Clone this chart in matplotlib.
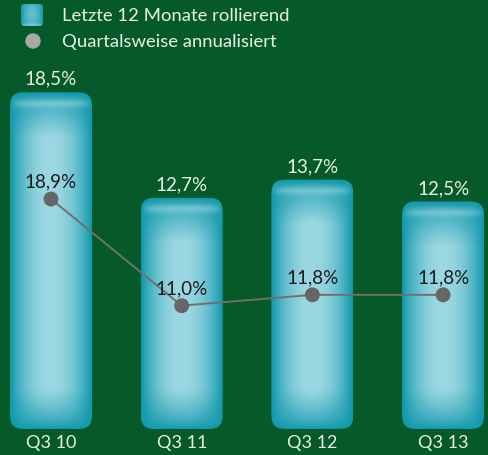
import numpy as np
import matplotlib
matplotlib.use("Agg")
import matplotlib.pyplot as plt
from matplotlib.patches import FancyBboxPatch, Circle

categories = ["Q3 10", "Q3 11", "Q3 12", "Q3 13"]
rolling_12m = [18.5, 12.7, 13.7, 12.5]
quarterly_annualized = [18.9, 11.0, 11.8, 11.8]
bar_labels = ["18,5%", "12,7%", "13,7%", "12,5%"]
dot_labels = ["18,9%", "11,0%", "11,8%", "11,8%"]
legend_labels = ["Letzte 12 Monate rollierend", "Quartalsweise annualisiert"]

BG = "#065a2a"
TXT = "#e9f1e4"
FONT = "Lato"
W, H = 488, 456
fig = plt.figure(figsize=(W / 100, H / 100), dpi=100)
fig.patch.set_facecolor(BG)

PX_PER_UNIT = 18.2
base_px = 430
ax = fig.add_axes([0, (H - base_px) / H, 1, base_px / H])
ax.set_facecolor("none")
spacing = 130.7
ax.set_xlim(-51 / spacing, (W - 51) / spacing)
ax.set_ylim(0, base_px / PX_PER_UNIT)
ax.axis("off")

dark = np.array([0x10, 0x98, 0xac]) / 255
light = np.array([0x9c, 0xd8, 0xe2]) / 255


def bar_image(h_px, w_px=82):
    nx, ny = 120, max(int(h_px), 10)
    xs = np.linspace(-1, 1, nx)
    ys = np.linspace(0, h_px, ny)  # from bottom
    XX, YY = np.meshgrid(xs, ys)
    t = 1 - np.abs(XX) ** 2.0
    bottom = np.clip(YY / 40.0, 0, 1) ** 0.7
    top = np.clip((h_px - YY) / 45.0, 0, 1) ** 0.8
    t = np.clip(t * bottom * top, 0, 1)
    im = dark[None, None, :] * (1 - t[..., None]) + light[None, None, :] * t[..., None]
    # soft glossy highlight band near the top
    hb = np.exp(-((h_px - YY - 11) / 4.5) ** 2) * (1 - np.abs(XX) ** 6) * 0.28
    im = im * (1 - hb[..., None]) + hb[..., None]
    return np.clip(im, 0, 1)


bw = 82 / spacing
rx = 13 / spacing
aspect = (13 / PX_PER_UNIT) / rx
x = np.arange(len(categories))
for i, v in enumerate(rolling_12m):
    p = FancyBboxPatch((x[i] - bw / 2, 0), bw, v,
                       boxstyle=f"round,pad=0,rounding_size={rx}",
                       mutation_aspect=aspect, facecolor="none", edgecolor="none")
    ax.add_patch(p)
    im = ax.imshow(bar_image(v * PX_PER_UNIT), extent=[x[i] - bw / 2, x[i] + bw / 2, 0, v],
                   origin="lower", aspect="auto", zorder=2, interpolation="bilinear")
    im.set_clip_path(p)
    ax.text(x[i], v + 0.3, bar_labels[i], ha="center", va="bottom",
            color=TXT, fontsize=13.5, family=FONT, zorder=5)
    ax.text(x[i], -0.3, categories[i], ha="center", va="top",
            color=TXT, fontsize=13, family=FONT, zorder=5)

# dots on a separate scale
ax2 = fig.add_axes([0, 0, 1, 1])
ax2.set_facecolor("none")
ax2.set_xlim(ax.get_xlim())
slope = 13.5
y0px = 200 + 18.9 * slope
ax2.set_ylim((y0px - H) / slope, y0px / slope)
ax2.axis("off")
ax2.plot(x, quarterly_annualized, color="#707070", lw=1.4, zorder=6)
ax2.scatter(x, quarterly_annualized, s=115, color="#666666", zorder=7, edgecolors="none")
for i, v in enumerate(quarterly_annualized):
    ax2.text(x[i], v + 0.7, dot_labels[i], ha="center", va="bottom",
             color="#1b1b1b", fontsize=13.5, family=FONT, zorder=8)

# legend
lg = fig.add_axes([0, 0, 1, 1])
lg.set_xlim(0, W)
lg.set_ylim(H, 0)
lg.axis("off")
lg.set_facecolor("none")
sq = FancyBboxPatch((21, 5), 22, 22, boxstyle="round,pad=0,rounding_size=3",
                    facecolor="none", edgecolor="none")
lg.add_patch(sq)
sq_img = lg.imshow(bar_image(60)[10:50], extent=[21, 43, 27, 5], aspect="auto", zorder=2)
sq_img.set_clip_path(sq)
lg.add_patch(Circle((33, 42), 7, color="#a8a8a8", zorder=3))
lg.text(62, 16, legend_labels[0], va="center", ha="left", color=TXT,
        fontsize=13.3, family=FONT)
lg.text(62, 42, legend_labels[1], va="center", ha="left", color=TXT,
        fontsize=13.3, family=FONT)

fig.savefig("out.png", dpi=100, facecolor=BG)
